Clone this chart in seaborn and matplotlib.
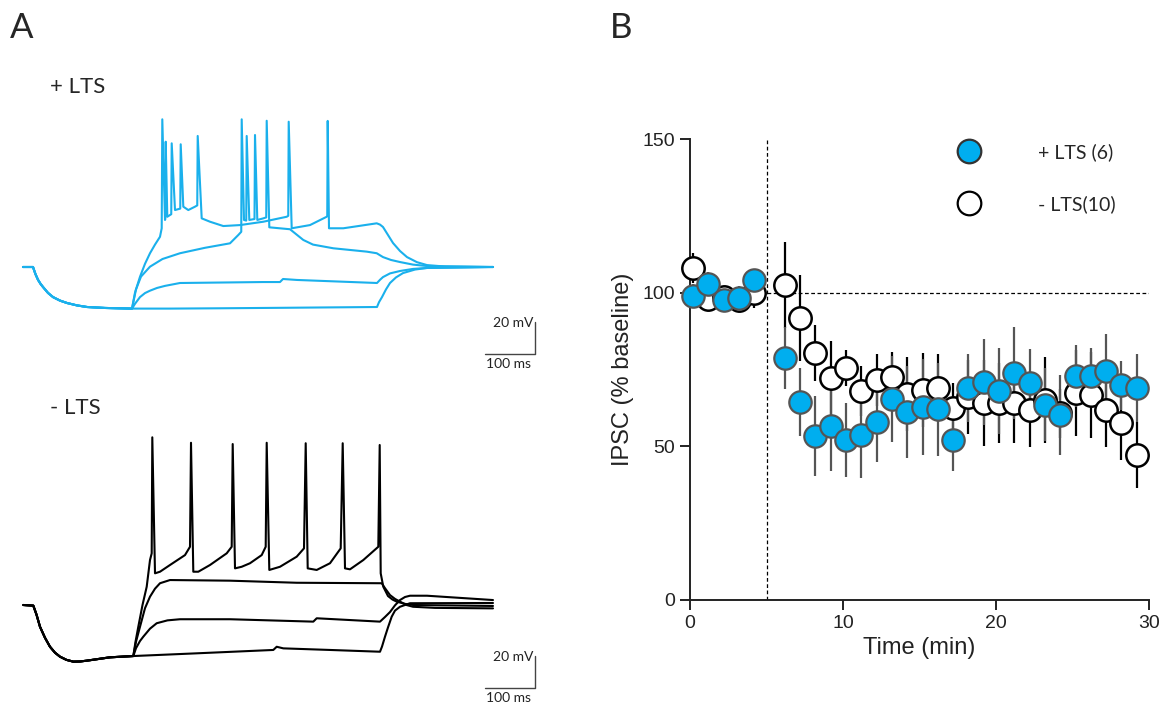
import numpy as np
import pandas as pd
import matplotlib
matplotlib.use("Agg")
import matplotlib.pyplot as plt
from matplotlib.lines import Line2D
import seaborn as sns

# ---------------- panel A: voltage traces (ms, mV) ----------------
# shared hyperpolarising pre-step, + LTS cell
pos_pre = [(6, -60), (26, -60), (31, -64.5), (36, -68), (41, -70.5), (46, -72.5), (56, -76.2),
           (66, -78.8), (80, -81), (94, -82.5), (114, -84), (134, -85), (170, -85.6), (224, -86)]
pos_1 = [(300, -86), (400, -85.8), (526, -85.5), (600, -85.3), (714, -85), (718, -82),
         (724, -78.8), (732, -74), (740, -70), (752, -66.5), (766, -63.8), (790, -61.6),
         (814, -60.6), (946, -60)]
pos_2 = [(230, -83), (240, -78.8), (250, -76.3), (260, -74.8), (274, -73.1), (290, -71.8),
         (320, -70), (486, -69.4), (520, -69.4), (526, -67.5), (554, -68.1), (714, -70),
         (720, -68), (726, -66.3), (740, -64), (760, -62.5), (786, -61.2), (814, -60.6),
         (946, -60)]
pos_3 = [(232, -74), (242, -66), (260, -59.8), (285, -55), (320, -51.4), (370, -48),
         (420, -45.2), (436.6, -40), (442.5, -38), (443.4, 32.3),
         (448, -30.6), (452.5, -31), (453.4, 21.9), (458.6, -30.6), (469, -30), (470, 22.5),
         (474.6, -30.6), (486.6, -29.6), (492.5, -29), (493.4, 31.4), (498.6, -35.2),
         (540, -36.4), (566.6, -43.1), (586, -46), (626.6, -48.3), (693.4, -50.4),
         (713.4, -51.4), (726, -53.8), (742, -55.6), (760, -56.9), (786, -58.5), (814, -59.4),
         (946, -60)]
pos_4 = [(230, -76), (240, -66.1), (250, -58), (260, -51.4), (270, -46), (280, -41.1),
         (283.4, -35.8), (284.6, 32.3), (290, -30.6),
         (290.6, -30), (291.4, 18.3), (294.6, -28.6), (302.5, -27), (303.4, 17.3), (310, -24.4),
         (320.5, -23.5), (321.4, 16.7), (326.6, -22.3), (336.6, -24.4), (350, -22.3),
         (354.5, -21.5), (355.4, 21.9), (363.4, -29.6), (380, -31.7), (406.6, -34.4),
         (440, -33.8), (486.6, -31.7), (533.4, -28.6), (536.5, -28), (537.4, 30.8),
         (543.4, -35.8), (580, -33.8), (613.4, -28.6), (614.5, -28), (615.4, 31.3),
         (618, -35.8), (646.6, -35.8), (713.4, -32.7), (720, -33.5), (726, -35), (736, -40),
         (746, -45), (760, -50), (774, -53.8), (794, -57), (814, -58.8), (850, -59.7),
         (946, -60)]

# - LTS cell
neg_pre = [(6.6, -60), (26.6, -60.4), (33, -66), (40, -73.6), (50, -80.5), (60, -86.1),
           (70, -89.8), (80, -92.3), (93, -94.3), (106.6, -95.4), (120, -95.3), (133.4, -94.8),
           (160, -93.6), (180, -92.7), (226.6, -91.9)]
neg_1 = [(353.4, -90.2), (506.6, -88.1), (513.4, -86.1), (526.6, -87.1), (620, -88.1),
         (720, -89.2), (724, -86), (730, -79.8), (736, -74), (743.4, -67.3), (750, -63.5),
         (760, -61.1), (780, -58.9), (946, -58.75)]
neg_2 = [(232, -87), (240, -82.5), (246.6, -79.8), (260, -74.8), (273.4, -71.4), (295, -69.6),
         (320, -68.9), (420, -68.9), (586.6, -70.4), (593.4, -68.3), (720, -70.4), (730, -67.5),
         (740, -64.4), (750, -60.2), (760, -56.9), (770, -55), (780, -54.2), (814, -54.2),
         (946, -56.9)]
neg_3 = [(232, -83), (240, -73.6), (250, -62), (260, -54.8), (270, -49.8), (280, -46.4),
         (300, -44.4), (420, -44.8), (553.4, -46.1), (723.4, -46.4), (730, -49.5), (740, -53.8),
         (750, -56.2), (760, -57.9), (773, -60), (786, -61.1), (830, -61.8), (946, -62.1)]
neg_4 = [(231, -83), (236.6, -73.6), (245, -60), (253.4, -48.6), (260, -31.9), (263.4, -27.7),
         (264.6, 44.8),
         (270, -40.2), (280, -39.2), (300, -35), (330, -28.8), (340, -23.6), (342, 41.4),
         (346.6, -39.2), (356.6, -39.2), (380, -35), (413.4, -27.7), (423.4, -23.6),
         (425.4, 40.6), (430, -37.1), (443.4, -36.1), (460, -33.9), (483.4, -28.8),
         (491.4, -23.6), (493.4, 41.4), (498.6, -38.1), (520, -36.1), (553.4, -29.8),
         (568, -24.6), (571.4, 41.1), (575.4, -37.1), (593.4, -38.1), (620, -33.9),
         (641.4, -24.6), (645.4, 41.1), (650, -37.1), (660, -37.7), (686.6, -31.9),
         (716.6, -23.6), (719.4, 40), (721.4, -40.2), (726.6, -48.6), (736, -54.4),
         (745, -56.6), (753.4, -57.9), (770, -59.3), (786.6, -60), (946, -60.6)]

# ---------------- panel B: IPSC time course ----------------
time_min = [0.2, 1.2, 2.2, 3.2, 4.2, 6.2, 7.2, 8.2, 9.2, 10.2, 11.2, 12.2, 13.2, 14.2, 15.2,
            16.2, 17.2, 18.2, 19.2, 20.2, 21.2, 22.2, 23.2, 24.2, 25.2, 26.2, 27.2, 28.2, 29.2]
lts_pos_mean = [98.9, 102.8, 97.6, 98.3, 104, 78.7, 64.4, 53.4, 56.6, 52, 53.7, 58, 65.4, 61.2,
                62.8, 62, 52, 69, 71, 68, 73.9, 70.6, 63.6, 60.2, 72.9, 72.9, 74.5, 69.8, 69]
lts_pos_sem = [4, 4, 4, 4, 3, 10, 11, 13, 14.5, 12, 14, 13, 14, 15, 15.5, 15, 10, 11, 14, 14,
               15, 11, 12, 13, 10, 9, 12, 8, 11]
lts_neg_mean = [108, 98, 98.5, 97.6, 100, 102.5, 91.8, 80.4, 72.2, 75.5, 68, 71.6, 72.6, 67,
                68.3, 69, 62.5, 66, 64, 64, 64, 61.8, 65, 60.8, 67.4, 66.7, 61.8, 57.6, 47.2]
lts_neg_sem = [5, 3, 3, 3, 5, 14, 14, 9, 12, 6, 8, 8.5, 8, 12, 12, 11, 8, 12, 14, 13, 13, 12,
               14, 8, 14, 14, 12, 12, 10.7]
legend_labels = ["+ LTS (6)", "- LTS(10)"]

blue = "#00AEEF"
trace_blue = "#1AB0EC"

sns.set_style("ticks")
plt.rcParams["font.family"] = ["Liberation Sans", "DejaVu Sans"]
label_font = ["Lato", "DejaVu Sans"]

W, H = 1167, 703
fig = plt.figure(figsize=(W / 100, H / 100), dpi=100)
axA1 = fig.add_axes([20 / W, (H - 363) / H, 525 / W, 272 / H])
axA2 = fig.add_axes([20 / W, (H - 701) / H, 525 / W, 272 / H])
axB = fig.add_axes([690 / W, 103 / H, 459 / W, 461 / H])


def draw_traces(ax, pre, traces, color):
    for tr in traces:
        df = pd.DataFrame(pre + tr, columns=["t", "v"])
        sns.lineplot(data=df, x="t", y="v", sort=False, estimator=None, color=color,
                     lw=1.5, ax=ax)
    ax.set_xlim(0, 1050)
    ax.set_ylim(-120, 50)
    ax.axis("off")


draw_traces(axA1, pos_pre, [pos_1, pos_2, pos_3, pos_4], trace_blue)
draw_traces(axA2, neg_pre, [neg_1, neg_2, neg_3, neg_4], "black")

# scale bars: 20 mV / 100 ms
for ax, top in [(axA1, -94.4), (axA2, -91.9)]:
    ax.plot([1030, 1030, 930], [top, top - 20, top - 20], color="#444444", lw=1.0,
            clip_on=False)
    ax.text(1026, top - 0.5, "20 mV", ha="right", va="center", fontsize=10,
            family=label_font, color="#222222")
    ax.text(932, top - 22.5, "100 ms", ha="left", va="top", fontsize=10,
            family=label_font, color="#222222")

axA1.text(60, 52.5, "+ LTS", ha="left", va="center", fontsize=16, family=label_font)
axA2.text(60, 63, "- LTS", ha="left", va="center", fontsize=16, family=label_font)

fig.text(10 / W, 1 - 12 / H, "A", ha="left", va="top", fontsize=25, family=label_font)
fig.text(610 / W, 1 - 12 / H, "B", ha="left", va="top", fontsize=25, family=label_font)

# panel B
axB.plot([5, 5], [0, 150], color="black", lw=0.9, ls=(0, (3, 2)))
axB.plot([5, 30], [100, 100], color="black", lw=0.9, ls=(0, (3, 2)))

axB.errorbar(time_min, lts_neg_mean, yerr=lts_neg_sem, fmt="none", ecolor="black",
             elinewidth=1.6, capsize=0, zorder=2, clip_on=False)
axB.errorbar(time_min, lts_pos_mean, yerr=lts_pos_sem, fmt="none", ecolor="#555555",
             elinewidth=1.6, capsize=0, zorder=2, clip_on=False)
sns.scatterplot(x=time_min, y=lts_neg_mean, ax=axB, s=260, color="white",
                edgecolor="black", linewidth=1.8, zorder=3, clip_on=False)
sns.scatterplot(x=time_min, y=lts_pos_mean, ax=axB, s=260, color=blue,
                edgecolor="#555555", linewidth=1.6, zorder=4, clip_on=False)

axB.set_xlim(0, 30)
axB.set_ylim(0, 150)
axB.set_xticks([0, 10, 20, 30])
axB.set_yticks([0, 50, 100, 150])
sns.despine(ax=axB)
for s in ["left", "bottom"]:
    axB.spines[s].set_linewidth(1.4)
    axB.spines[s].set_color("#222222")
axB.tick_params(direction="out", length=7, width=1.4, labelsize=14, colors="#222222",
                bottom=True, left=True)
axB.set_xlabel("Time (min)", fontsize=17, color="#222222", labelpad=4)
axB.set_ylabel("IPSC (% baseline)", fontsize=17, color="#222222", labelpad=6)

handles = [
    Line2D([], [], ls="none", marker="o", markersize=17, markerfacecolor=blue,
           markeredgecolor="#333333", markeredgewidth=1.6),
    Line2D([], [], ls="none", marker="o", markersize=17, markerfacecolor="white",
           markeredgecolor="black", markeredgewidth=1.6),
]
fig.legend(handles, legend_labels, loc="upper left", bbox_to_anchor=(950 / W, 1 - 143 / H),
           frameon=False, handletextpad=2.5, labelspacing=1.75, borderpad=0,
           borderaxespad=0, prop={"family": label_font, "size": 14})

fig.savefig("out.png", dpi=100)
